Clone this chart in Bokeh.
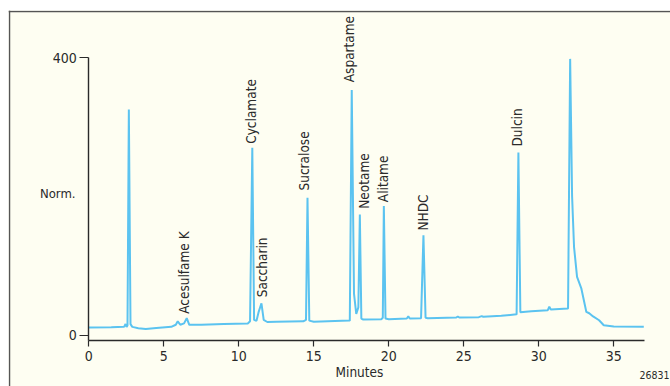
import math
from bokeh.plotting import figure
from bokeh.models import FixedTicker, ColumnDataSource, LinearAxis, Span
from bokeh.core.properties import value
from bokeh.embed import file_html
from bokeh.resources import INLINE

# ---- data ----
minutes = [0.0, 1.5, 2.35, 2.45, 2.52, 2.58, 2.67, 2.78, 2.9, 3.3, 3.8, 4.5, 5.5,
           5.8, 5.93, 6.1, 6.35, 6.53, 6.7, 7.5, 9.0, 10.6, 10.75, 10.9, 11.02,
           11.18, 11.33, 11.51, 11.66, 11.9, 12.5, 14.3, 14.48, 14.58, 14.7, 15.0,
           16.4, 17.4, 17.53, 17.68, 17.83, 17.97, 18.07, 18.17, 18.3, 19.5, 19.6,
           19.67, 19.78, 20.0, 21.2, 21.3, 21.4, 22.15, 22.31, 22.45, 22.6, 24.5,
           24.6, 24.7, 26.0, 26.2, 26.3, 27.5, 28.52, 28.64, 28.77, 29.5, 30.6,
           30.7, 30.8, 31.95, 32.09, 32.22, 32.35, 32.55, 32.84, 33.17, 33.36, 33.62,
           34.02, 34.33, 35.0, 37.0]
signal = [11.0, 11.5, 12.0, 16.0, 12.0, 14.0, 325.0, 16.0, 12.0, 10.0, 9.0, 10.5, 12.0,
          15.0, 20.0, 15.0, 17.0, 24.5, 15.0, 15.0, 16.0, 17.0, 20.0, 270.0, 22.0,
          20.7, 34.0, 46.0, 22.0, 19.0, 19.5, 20.0, 22.0, 198.0, 21.0, 19.5,
          20.5, 21.0, 353.0, 60.0, 30.8, 40.0, 174.0, 24.0, 22.5, 23.0, 25.0,
          186.0, 24.0, 23.0, 24.0, 27.0, 24.0, 24.5, 144.0, 25.0, 24.5, 25.5,
          27.0, 25.5, 26.0, 27.5, 26.5, 28.0, 30.0, 263.0, 33.0, 34.5, 36.0,
          41.0, 37.0, 38.5, 398.0, 200.0, 127.0, 84.0, 67.0, 33.5, 31.6, 27.0,
          21.5, 14.4, 12.5, 12.0]

peak_names = ["Acesulfame K", "Cyclamate", "Saccharin", "Sucralose", "Aspartame",
              "Neotame", "Alitame", "NHDC", "Dulcin"]
peak_label_min = [6.33, 10.8, 11.56, 14.38, 17.37, 18.33, 19.59, 22.26, 28.56]
peak_label_norm = [30.8, 275.7, 54.7, 208.4, 364.4, 182.1, 191.6, 150.8, 271.8]

x_ticks = [0, 5, 10, 15, 20, 25, 30, 35]
y_ticks = [0, 400]
x_title = "Minutes"
y_title = "Norm."
figure_id = "26831"

FONT = "DejaVu Sans Condensed, Roboto, sans-serif"
BG = "#fefef2"
INK = "#2a2a2a"
LINE = "#5bc3f0"
FRAME = "#555555"

# view window (data units) and axis placement
X_START, X_END = -5.353, 38.78
Y_START, Y_END = -73.9, 467.7
X_AXIS_AT = -7.2
X_AXIS_END = 37.05

p = figure(width=670, height=386, x_range=(X_START, X_END), y_range=(Y_START, Y_END),
           x_axis_location=None, y_axis_location=None,
           output_backend="svg", toolbar_location=None,
           min_border=0, min_border_left=8, min_border_top=10,
           min_border_right=0, min_border_bottom=0)
p.background_fill_color = BG
p.border_fill_color = "white"
p.outline_line_color = None
p.xgrid.visible = False
p.ygrid.visible = False
for g in p.grid:
    g.grid_line_color = None

xaxis = LinearAxis(fixed_location=X_AXIS_AT, bounds=(0, X_AXIS_END),
                   ticker=FixedTicker(ticks=x_ticks))
yaxis = LinearAxis(fixed_location=0, bounds=(X_AXIS_AT, 400),
                   ticker=FixedTicker(ticks=y_ticks))
for ax in (xaxis, yaxis):
    ax.axis_line_color = INK
    ax.axis_line_width = 1.4
    ax.major_tick_line_color = INK
    ax.major_tick_line_width = 1.2
    ax.major_tick_in = 0
    ax.minor_tick_line_color = None
    ax.major_label_text_font = FONT
    ax.major_label_text_font_size = "14px"
    ax.major_label_text_color = INK
xaxis.major_tick_out = 6
xaxis.major_label_standoff = 5
yaxis.major_tick_out = 9
yaxis.major_label_standoff = 3
p.add_layout(xaxis, "below")
p.add_layout(yaxis, "left")

# panel frame (top and left rules)
p.add_layout(Span(location=-5.287, dimension="height", line_color=FRAME, line_width=1.5))
p.add_layout(Span(location=466.3, dimension="width", line_color=FRAME, line_width=1.5))

src = ColumnDataSource(dict(t=minutes, s=signal))
p.line("t", "s", source=src, line_color=LINE, line_width=2)

lab = ColumnDataSource(dict(x=peak_label_min, y=peak_label_norm, name=peak_names))
p.text("x", "y", text="name", source=lab, angle=math.pi / 2,
       text_align="left", text_baseline="middle",
       text_font=value(FONT), text_font_size="13.5px", text_color=INK)

p.text(x=[-0.887], y=[204.5], text=[y_title], text_align="right",
       text_baseline="middle", text_font=value(FONT),
       text_font_size="13px", text_color=INK)
p.text(x=[16.45], y=[-53.2], text=[x_title], text_align="left",
       text_baseline="middle", text_font=value(FONT),
       text_font_size="13.5px", text_color=INK)
p.text(x=[38.72], y=[-57.3], text=[figure_id], text_align="right",
       text_baseline="middle", text_font=value(FONT),
       text_font_size="10.5px", text_color=INK)

open("out.html", "w").write(file_html(p, INLINE))
